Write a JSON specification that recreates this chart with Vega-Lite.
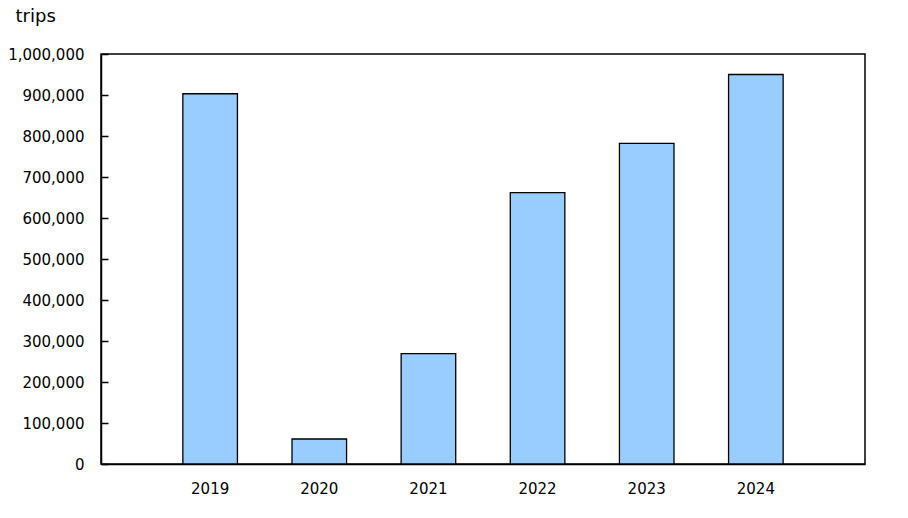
{
  "$schema": "https://vega.github.io/schema/vega-lite/v6.json",
  "autosize": "none",
  "width": 764,
  "height": 410,
  "padding": {"left": 101, "top": 54, "right": 43, "bottom": 54},
  "background": "white",
  "config": {
    "view": {"stroke": "black", "strokeWidth": 1.5},
    "font": "DejaVu Sans",
    "axis": {"labelFont": "DejaVu Sans", "labelFontSize": 15, "labelColor": "black", "domainColor": "black", "tickColor": "black", "grid": false}
  },
  "data": {
    "values": [
      {"year": "2019", "trips": 903000},
      {"year": "2020", "trips": 61000},
      {"year": "2021", "trips": 269000},
      {"year": "2022", "trips": 662000},
      {"year": "2023", "trips": 782000},
      {"year": "2024", "trips": 950000}
    ]
  },
  "mark": {"type": "bar", "color": "#99CCFF", "stroke": "black", "strokeWidth": 1.3},
  "encoding": {
    "x": {
      "field": "year",
      "type": "ordinal",
      "scale": {"paddingInner": 0.5, "paddingOuter": 0.75},
      "axis": {"title": null, "ticks": false, "labelAngle": 0, "labelPadding": 17, "labelFontSize": 15, "domainWidth": 1.5}
    },
    "y": {
      "field": "trips",
      "type": "quantitative",
      "scale": {"domain": [0, 1000000], "nice": false},
      "axis": {
        "values": [0, 100000, 200000, 300000, 400000, 500000, 600000, 700000, 800000, 900000, 1000000],
        "format": ",d",
        "labelFontSize": 15,
        "tickSize": -7,
        "tickWidth": 1.5,
        "domainWidth": 1.5,
        "labelPadding": 24,
        "title": "trips",
        "titleAngle": 0,
        "titleAlign": "left",
        "titleBaseline": "alphabetic",
        "titleX": -86,
        "titleY": -33,
        "titleFont": "DejaVu Sans",
        "titleFontSize": 18,
        "titleFontWeight": "normal",
        "titleColor": "black"
      }
    }
  }
}
